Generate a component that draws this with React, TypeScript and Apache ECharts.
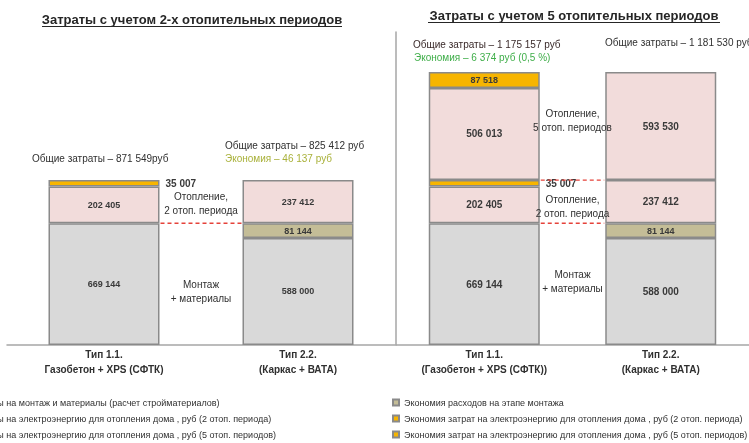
import React, { useEffect, useRef } from "react";
import * as echarts from "echarts";

// ---------- data ----------
const categoriesLeft = ["Тип 1.1.\nГазобетон + XPS (СФТК)", "Тип 2.2.\n(Каркас + ВАТА)"];
const categoriesRight = ["Тип 1.1.\n(Газобетон + XPS (СФТК))", "Тип 2.2.\n(Каркас + ВАТА)"];

const montage = [669144, 588000];
const montageSaving = [null, 81144];
const heating2 = [202405, 237412];
const heating2Saving = [35007, null];
const heating5 = [506013, 593530];
const heating5Saving = [87518, null];

const N_MONTAGE = "Затраты на монтаж и материалы (расчет стройматериалов)";
const N_H2 = "Затраты на электроэнергию для отопления дома , руб (2 отоп. периода)";
const N_H5 = "Затраты на электроэнергию для отопления дома , руб (5 отоп. периодов)";
const N_MS = "Экономия расходов на этапе монтажа";
const N_H2S = "Экономия затрат на электроэнергию для отопления дома , руб (2 отоп. периода)";
const N_H5S = "Экономия затрат на электроэнергию для отопления дома , руб (5 отоп. периодов)";

const titleLeft = "Затраты с учетом 2-х отопительных периодов";
const titleRight = "Затраты с учетом 5 отопительных периодов";
const totalL11 = "Общие затраты – 871 549руб";
const totalL22 = "Общие затраты – 825 412 руб";
const savingL = "Экономия – 46 137 руб";
const totalR11 = "Общие затраты – 1 175 157 руб";
const savingR = "Экономия – 6 374 руб (0,5 %)";
const totalR22 = "Общие затраты – 1 181 530 руб";
const noteHeat2 = "Отопление,\n2 отоп. периода";
const noteHeat5 = "Отопление,\n5 отоп. периодов";
const noteMontage = "Монтаж\n+ материалы";

// ---------- styles ----------
const FONT = "Liberation Sans";
const C_GREY = "#d9d9d9";
const C_PINK = "#f2dcdb";
const C_GOLD = "#f7b500";
const C_OLIVE = "#c4bd97";
const C_BORDER = "#8a8a8a";
const TXT = "#303030";

const fmt = (v: number) => String(v).replace(/\B(?=(\d{3})+(?!\d))/g, " ");

function bar(name: string, data: (number | null)[], color: string, grid: number, labelPos: string = "inside", fontSize = 9) {
  return {
    name,
    type: "bar",
    xAxisIndex: grid,
    yAxisIndex: grid,
    stack: grid === 0 ? "L" : "R",
    data,
    barWidth: 111,
    itemStyle: { color, borderColor: C_BORDER, borderWidth: 1.5 },
    label: {
      show: true,
      position: labelPos,
      distance: 6,
      formatter: (p: any) => fmt(p.value),
      fontFamily: FONT,
      fontSize,
      fontWeight: "bold",
      color: "#3a3a3a",
    },
  };
}

export default function App() {
  const ref = useRef<HTMLDivElement>(null);
  useEffect(() => {
    if (!ref.current) return;
    const chart = echarts.init(ref.current, undefined, { renderer: "svg" });
    const xAxisBase = {
      type: "category",
      axisLine: { lineStyle: { color: "#a6a6a6", width: 1.5 } },
      axisTick: { show: false },
      axisLabel: { fontFamily: FONT, fontSize: 10, fontWeight: "bold", color: TXT, lineHeight: 15, margin: 2, interval: 0 },
    };
    const legendBase = {
      orient: "vertical", top: 398, icon: "rect", itemWidth: 6, itemHeight: 6, itemGap: 7, padding: 0,
      textStyle: { fontFamily: FONT, fontSize: 9, color: TXT },
    };
    const option: any = {
      animation: false,
      textStyle: { fontFamily: FONT },
      grid: [
        { left: 7, right: 354, top: 32, bottom: 98 },
        { left: 396, right: -29, top: 32, bottom: 98 },
      ],
      xAxis: [
        { ...xAxisBase, gridIndex: 0, data: categoriesLeft },
        { ...xAxisBase, gridIndex: 1, data: categoriesRight },
      ],
      yAxis: [
        { type: "value", gridIndex: 0, min: 0, max: 1720000, show: false },
        {
          type: "value", gridIndex: 1, min: 0, max: 1720000,
          axisLine: { show: true, lineStyle: { color: "#a6a6a6", width: 1.5 } },
          axisTick: { show: false }, axisLabel: { show: false }, splitLine: { show: false },
        },
      ],
      legend: [
        { ...legendBase, left: -43, data: [N_MONTAGE, N_H2, N_H5] },
        { ...legendBase, left: 392, data: [N_MS, N_H2S, N_H5S] },
      ],
      series: [
        bar(N_MONTAGE, montage, C_GREY, 0),
        bar(N_MS, montageSaving, C_OLIVE, 0),
        bar(N_H2, heating2, C_PINK, 0),
        bar(N_H2S, heating2Saving, C_GOLD, 0, "right", 10),
        bar(N_MONTAGE, montage, C_GREY, 1, "inside", 10),
        bar(N_MS, montageSaving, C_OLIVE, 1),
        bar(N_H2, heating2, C_PINK, 1, "inside", 10),
        bar(N_H2S, heating2Saving, C_GOLD, 1, "right", 10),
        bar(N_H5, heating5, C_PINK, 1, "inside", 10),
        bar(N_H5S, heating5Saving, C_GOLD, 1),
      ],
    };
    chart.setOption(option);

    // positions derived from the library's scales
    const px = (g: number, cat: number, v: number) =>
      chart.convertToPixel({ xAxisIndex: g, yAxisIndex: g } as any, [cat, v]) as number[];
    const half = 55.5;
    const lvlMontage = montage[0];
    const lvl2 = montage[0] + heating2[0] + (heating2Saving[0] as number);
    const dashed = (g: number, v: number) => {
      const a = px(g, 0, v);
      const b = px(g, 1, v);
      return {
        type: "line",
        shape: { x1: a[0] + half + 1, y1: a[1], x2: b[0] - half - 1, y2: b[1] },
        style: { stroke: "#e5423a", lineWidth: 1.3, lineDash: [4, 3] },
        z: 10,
      };
    };
    const midX = (g: number) => (px(g, 0, 0)[0] + px(g, 1, 0)[0]) / 2;
    const txt = (text: string, x: number, y: number, opts: any = {}) => ({
      type: "text",
      x, y,
      style: {
        text, fontFamily: FONT, fontSize: 10, fill: TXT,
        textAlign: "left", textVerticalAlign: "middle", lineHeight: 14, ...opts,
      },
      z: 20,
    });

    const graphics: any[] = [
      txt(titleLeft, 192, 19, { textAlign: "center", fontSize: 13, fontWeight: "bold", fill: "#262626" }),
      { type: "line", shape: { x1: 42, y1: 26.5, x2: 342, y2: 26.5 }, style: { stroke: "#262626", lineWidth: 1 } },
      txt(titleRight, 574, 15, { textAlign: "center", fontSize: 13, fontWeight: "bold", fill: "#262626" }),
      { type: "line", shape: { x1: 428, y1: 22.5, x2: 720, y2: 22.5 }, style: { stroke: "#262626", lineWidth: 1 } },

      txt(totalL11, 32, 158),
      txt(totalL22, 225, 145),
      txt(savingL, 225, 158, { fill: "#a9b13a" }),
      txt(totalR11, 413, 44, { fill: "#3a2a2a" }),
      txt(savingR, 414, 57, { fill: "#3fae49" }),
      txt(totalR22, 605, 42),

      txt(noteHeat2, midX(0), 203, { textAlign: "center" }),
      txt(noteMontage, midX(0), 291, { textAlign: "center" }),
      txt(noteHeat5, midX(1), 120, { textAlign: "center" }),
      txt(noteHeat2, midX(1), 206, { textAlign: "center" }),
      txt(noteMontage, midX(1), 281, { textAlign: "center" }),

      dashed(0, lvlMontage),
      dashed(1, lvlMontage),
      dashed(1, lvl2),
    ];
    chart.setOption({ graphic: graphics });
    return () => chart.dispose();
  }, []);
  return <div ref={ref} style={{ position: "fixed", left: 0, top: 0, width: 749, height: 443 }} />;
}
